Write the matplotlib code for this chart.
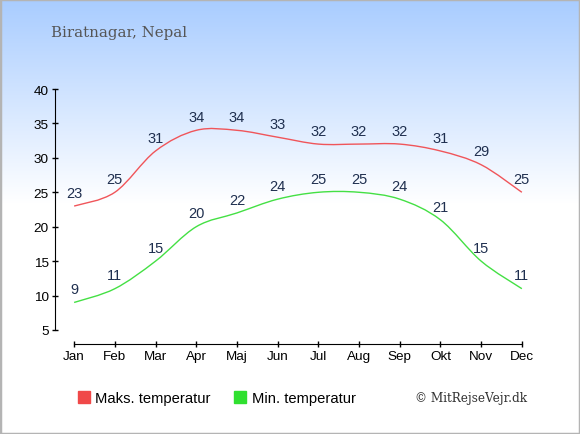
import numpy as np
import matplotlib.pyplot as plt
from matplotlib.path import Path
from matplotlib.patches import PathPatch, Rectangle
from matplotlib.lines import Line2D

months = ["Jan", "Feb", "Mar", "Apr", "Maj", "Jun", "Jul", "Aug", "Sep", "Okt", "Nov", "Dec"]
max_temp = [23, 25, 31, 34, 34, 33, 32, 32, 32, 31, 29, 25]
min_temp = [9, 11, 15, 20, 22, 24, 25, 25, 24, 21, 15, 11]

MAX_COLOR = "#f0555a"
MIN_COLOR = "#44e044"
LABEL_COLOR = "#1f2f4f"

W, H = 580, 435
fig = plt.figure(figsize=(W / 100, H / 100), dpi=100)

# --- background gradient + border ---
bg = fig.add_axes([0, 0, 1, 1], zorder=-10)
bg.set_axis_off()
rows = np.linspace(0, 1, 435)
top = np.array([0.66, 0.80, 1.0])
white = np.array([1.0, 1.0, 1.0])
t = np.clip(rows / 0.47, 0, 1)[:, None]
grad = top * (1 - t) + white * t
bg.imshow(grad[:, None, :], aspect="auto", extent=[0, 1, 0, 1], origin="upper")
bg.set_xlim(0, 1)
bg.set_ylim(0, 1)
bg.add_patch(Rectangle((0, 0), 1, 1, fill=False, edgecolor="#b4b4b4",
                       linewidth=2.5, transform=bg.transAxes))


def smooth_path(xs, ys):
    """Bezier path through points (Catmull-Rom control points)."""
    xs = np.asarray(xs, float)
    ys = np.asarray(ys, float)
    verts = [(xs[0], ys[0])]
    codes = [Path.MOVETO]
    n = len(xs)
    for i in range(n - 1):
        p0 = np.array([xs[max(i - 1, 0)], ys[max(i - 1, 0)]])
        p1 = np.array([xs[i], ys[i]])
        p2 = np.array([xs[i + 1], ys[i + 1]])
        p3 = np.array([xs[min(i + 2, n - 1)], ys[min(i + 2, n - 1)]])
        c1 = p1 + (p2 - p0) / 6
        c2 = p2 - (p3 - p1) / 6
        verts += [tuple(c1), tuple(c2), tuple(p2)]
        codes += [Path.CURVE4] * 3
    return Path(verts, codes)


# --- main axes ---
ax = fig.add_axes([55 / W, (H - 331) / H, 475 / W, 241 / H])
ax.patch.set_alpha(0)
x = np.arange(len(months))
ax.set_xlim(-0.47, 11.2)
ax.set_ylim(5, 40)

for vals, col in ((max_temp, MAX_COLOR), (min_temp, MIN_COLOR)):
    ax.add_patch(PathPatch(smooth_path(x, vals), facecolor="none",
                           edgecolor=col, linewidth=1.0))
    for xi, v in zip(x, vals):
        ax.annotate(str(v), (xi, v), xytext=(0, 4.5), textcoords="offset points",
                    ha="center", va="bottom", fontsize=10.5, color=LABEL_COLOR,
                    family="Liberation Sans")

for s in ("top", "right"):
    ax.spines[s].set_visible(False)
ax.spines["bottom"].set_position(("outward", 10))
ax.spines["bottom"].set_bounds(0, 11)
ax.spines["left"].set_bounds(5, 40)
ax.set_xticks(x)
ax.set_xticklabels(months)
ax.set_yticks(range(5, 41, 5))
ax.tick_params(length=5, width=1, labelsize=9.7, pad=2, color="black", direction="inout")
for lab in ax.get_xticklabels() + ax.get_yticklabels():
    lab.set_family("Liberation Sans")

# --- title ---
fig.text(51 / W, 1 - 33 / H, "Biratnagar, Nepal", fontsize=10.8, color="#555555",
         family="DejaVu Serif", va="center", ha="left")

# --- legend ---
handles = [
    Line2D([], [], marker="s", linestyle="none", markersize=9,
           markerfacecolor="#f04848", markeredgecolor="#f04848"),
    Line2D([], [], marker="s", linestyle="none", markersize=9,
           markerfacecolor="#30e030", markeredgecolor="#30e030"),
]
fig.legend(handles, ["Maks. temperatur", "Min. temperatur"], loc="center left",
           bbox_to_anchor=(63 / W, 1 - 399 / H), ncol=2, frameon=False,
           prop={"family": "Liberation Sans", "size": 10.6}, handlelength=1.0,
           handletextpad=0.3, columnspacing=1.5)

fig.text(527 / W, 1 - 399 / H, "\u00a9 MitRejseVejr.dk", fontsize=8.7,
         color="#333333", family="DejaVu Serif", ha="right", va="center")

fig.savefig("out.png", dpi=100)
